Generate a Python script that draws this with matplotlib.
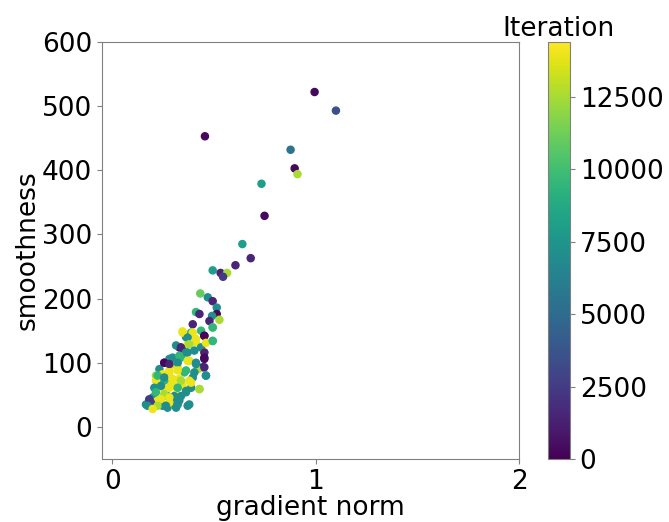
import matplotlib
matplotlib.use("Agg")
import matplotlib.pyplot as plt
import numpy as np

# gradient norm, smoothness, iteration
grad_norm = [
    0.995, 1.10, 0.456, 0.877, 0.897, 0.911, 0.734, 0.749, 0.640, 0.681,
    0.606, 0.494, 0.533, 0.565, 0.545,
    0.433, 0.470, 0.494, 0.514, 0.514, 0.491, 0.527, 0.478, 0.412, 0.429,
    0.396, 0.494, 0.437, 0.453, 0.388, 0.346, 0.363, 0.371, 0.412, 0.437,
    0.494, 0.453, 0.453, 0.330, 0.346, 0.314, 0.256, 0.281, 0.297, 0.338,
    0.379, 0.412, 0.371, 0.445, 0.420, 0.461, 0.232, 0.215, 0.248, 0.281,
    0.322, 0.355, 0.396, 0.379, 0.330, 0.289, 0.256, 0.215, 0.207, 0.248,
    0.305, 0.346, 0.388, 0.429, 0.363, 0.314, 0.272, 0.240, 0.199, 0.166,
    0.207, 0.248, 0.272, 0.297, 0.330, 0.379, 0.314, 0.281, 0.223, 0.182,
    0.346, 0.396, 0.371, 0.412, 0.453, 0.494, 0.461, 0.494, 0.379, 0.338,
    0.363, 0.404, 0.453, 0.453, 0.297, 0.330, 0.256, 0.281, 0.322, 0.371,
    0.412, 0.453, 0.461, 0.281, 0.322, 0.363, 0.404, 0.223, 0.256, 0.297,
    0.338, 0.388, 0.429, 0.240, 0.281, 0.322, 0.363, 0.215, 0.256, 0.305,
    0.338, 0.240, 0.281, 0.190, 0.223, 0.264, 0.322, 0.371, 0.174, 0.199,
]
smoothness = [
    522, 493, 453, 432, 403, 394, 379, 329, 285, 263,
    252, 244, 240, 240, 234,
    208, 202, 196, 186, 176, 173, 167, 165, 179, 176,
    160, 155, 150, 142, 147, 149, 140, 129, 132, 124,
    134, 116, 106, 124, 119, 127, 100, 106, 98, 108,
    103, 100, 116, 93, 90, 80, 90, 80, 82, 88,
    93, 85, 77, 72, 75, 72, 72, 72, 61, 61,
    64, 64, 61, 59, 54, 51, 48, 43, 46, 35,
    33, 33, 30, 38, 41, 35, 30, 38, 41, 43,
    147, 147, 139, 137, 142, 155, 131, 134, 129, 124,
    116, 119, 116, 108, 108, 111, 100, 98, 100, 103,
    98, 93, 80, 85, 88, 88, 85, 80, 77, 75,
    72, 69, 59, 64, 61, 61, 56, 54, 51, 48,
    48, 43, 46, 38, 33, 33, 35, 33, 33, 28,
]
iteration = [
    300, 3500, 300, 5500, 300, 12500, 8000, 300, 8000, 1500,
    1500, 8000, 1500, 12500, 2500,
    11000, 7000, 1500, 7000, 300, 7000, 12500, 1500, 9500, 1500,
    1500, 11000, 9500, 300, 9500, 14000, 7000, 14000, 14000, 7000,
    9500, 14000, 300, 300, 1500, 7000, 1500, 7000, 12500, 9500,
    14000, 7000, 7000, 1500, 12500, 7000, 7000, 12500, 14000, 14000,
    14000, 9500, 7000, 14000, 14000, 14000, 9500, 14000, 7000, 14000,
    14000, 14000, 7000, 12500, 7000, 14000, 9500, 14000, 7000, 7000,
    12500, 7000, 7000, 7000, 7000, 7000, 7000, 14000, 14000, 2500,
    14000, 14000, 7000, 14000, 300, 9500, 14000, 9500, 12500, 1500,
    7000, 7000, 1500, 300, 7000, 9500, 300, 1500, 7000, 14000,
    7000, 1500, 7000, 14000, 14000, 9500, 7000, 9500, 7000, 14000,
    12500, 14000, 12500, 7000, 14000, 9500, 7000, 9500, 12500, 7000,
    7000, 14000, 14000, 2500, 12500, 7000, 7000, 7000, 7000, 14000,
]

plt.rcParams["font.size"] = 19

fig = plt.figure(figsize=(6.69, 5.22), dpi=100)
ax = fig.add_axes([0.1525, 0.1207, 0.6233, 0.7989])
cax = fig.add_axes([0.819, 0.1207, 0.033, 0.7989])

sc = ax.scatter(grad_norm, smoothness, c=iteration, cmap="viridis",
                vmin=0, vmax=14400, s=26)
ax.set_xlim(-0.05, 2)
ax.set_ylim(-50, 600)
ax.set_xticks([0, 1, 2])
ax.set_yticks(np.arange(0, 601, 100))
ax.set_xlabel("gradient norm", labelpad=0)
ax.set_ylabel("smoothness", labelpad=1)
for sp in ax.spines.values():
    sp.set_color("0.5")
ax.tick_params(color="0.5")

cb = fig.colorbar(sc, cax=cax, ticks=[0, 2500, 5000, 7500, 10000, 12500])
cb.outline.set_edgecolor("0.5")
cax.tick_params(color="0.5")
cax.set_title("Iteration", fontsize=19, pad=4)

fig.savefig("out.png")
